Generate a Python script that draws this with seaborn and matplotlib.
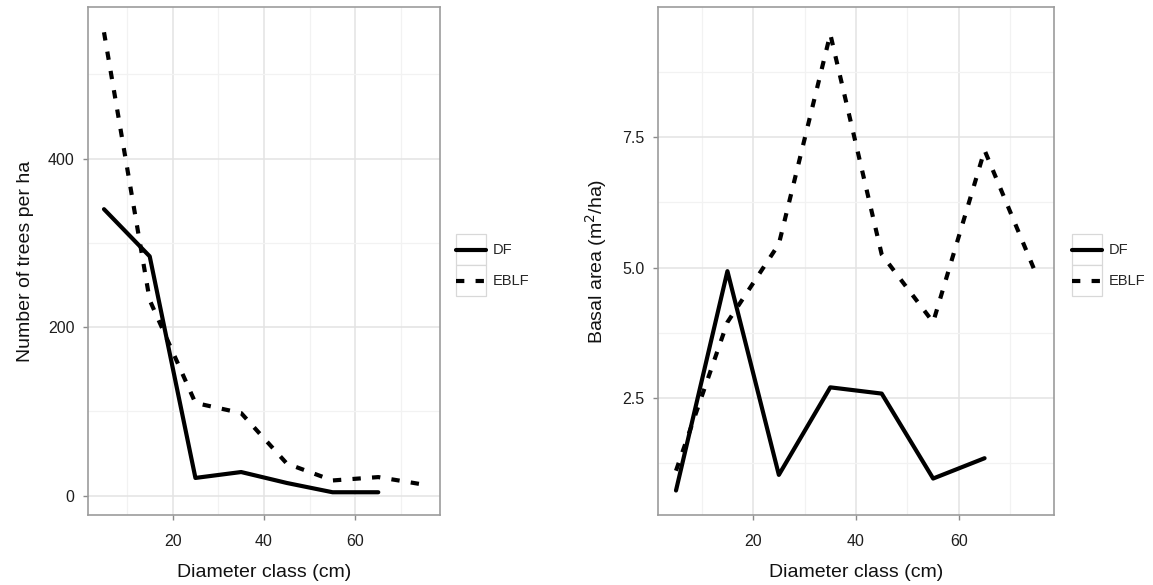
import numpy as np
import pandas as pd
import matplotlib
matplotlib.use("Agg")
import matplotlib.pyplot as plt
import seaborn as sns
from matplotlib.ticker import FixedLocator
from matplotlib.legend_handler import HandlerLine2D
from matplotlib.patches import Rectangle

# ---------------- data ----------------
diameter = [5, 15, 25, 35, 45, 55, 65, 75]
forests = ["DF", "EBLF"]

df_trees = [340, 284, 21, 28, 15, 4, 4]            # DF ends at 65 cm
eblf_trees = [550, 232, 110, 98, 38, 18, 22, 13]

df_basal = [0.72, 4.93, 1.02, 2.70, 2.58, 0.95, 1.34]
eblf_basal = [1.10, 3.95, 5.45, 9.48, 5.25, 3.95, 7.25, 4.88]

x_label = "Diameter class (cm)"
y_label_left = "Number of trees per ha"
y_label_right = "Basal area (m$^2$/ha)"

left_yticks = [0, 200, 400]
right_yticks = [2.5, 5.0, 7.5]
right_yticklabels = ["2.5", "5.0", "7.5"]
xticks = [20, 40, 60]


def long_frame(df_vals, eblf_vals):
    rows = []
    for d, v in zip(diameter, df_vals):
        rows.append({"diameter": d, "value": v, "forest": "DF"})
    for d, v in zip(diameter, eblf_vals):
        rows.append({"diameter": d, "value": v, "forest": "EBLF"})
    return pd.DataFrame(rows)


trees = long_frame(df_trees, eblf_trees)
basal = long_frame(df_basal, eblf_basal)

# ---------------- style ----------------
sns.set_theme(style="white")
plt.rcParams["font.family"] = ["Liberation Sans", "DejaVu Sans"]

W, H = 1153, 585
fig = plt.figure(figsize=(W / 100, H / 100), dpi=100)

ax1 = fig.add_axes([88 / W, (H - 515) / H, 352 / W, 508 / H])
ax2 = fig.add_axes([658 / W, (H - 515) / H, 396 / W, 508 / H])

LW = 3.0
dash_map = {"DF": "", "EBLF": (2.0, 2.7)}


class KeyBoxHandler(HandlerLine2D):
    def create_artists(self, legend, orig_handle, xdescent, ydescent,
                       width, height, fontsize, trans):
        arts = list(super().create_artists(legend, orig_handle, xdescent,
                                           ydescent, width, height, fontsize,
                                           trans))
        yc = height / 2.0 - ydescent
        for a in arts:
            if hasattr(a, "get_xdata"):
                a.set_ydata(np.full_like(np.asarray(a.get_xdata(), float), yc))
        rect = Rectangle((-xdescent, -ydescent), width, height,
                         facecolor="white", edgecolor="#d8d8d8", lw=0.9,
                         transform=trans)
        return [rect] + arts


def style_axes(ax, data, yticks, yticklabels, ylim, minor_y, ylabel):
    sns.lineplot(data=data, x="diameter", y="value", style="forest",
                 style_order=forests, dashes=dash_map, color="black",
                 linewidth=LW, legend=False, ax=ax, sort=True,
                 estimator=None)
    ax.set_xlim(1.5, 78.5)
    ax.set_ylim(*ylim)
    ax.xaxis.set_major_locator(FixedLocator(xticks))
    ax.xaxis.set_minor_locator(FixedLocator([10, 30, 50, 70]))
    ax.yaxis.set_major_locator(FixedLocator(yticks))
    ax.set_yticklabels(yticklabels)
    ax.yaxis.set_minor_locator(FixedLocator(minor_y))
    ax.grid(which="major", color="#e3e3e3", lw=1.1)
    ax.grid(which="minor", color="#f2f2f2", lw=0.9)
    ax.set_axisbelow(True)
    for s in ax.spines.values():
        s.set_color("#9c9c9c")
        s.set_linewidth(1.2)
    ax.tick_params(which="major", length=3.6, width=1.0, color="#8a8a8a",
                   labelsize=11.5, labelcolor="#1e1e1e", pad=6,
                   bottom=True, left=True)
    ax.tick_params(axis="x", which="major", pad=10)
    ax.tick_params(which="minor", length=0)
    ax.set_xlabel(x_label, fontsize=14, color="#111111", labelpad=11)
    ax.set_ylabel(ylabel, fontsize=14, color="#111111", labelpad=10)

    lines = ax.get_lines()[:2]
    leg = ax.legend(handles=lines, labels=forests, loc="center left",
                    bbox_to_anchor=(1.045, 0.492), frameon=False,
                    fontsize=10.5, handlelength=2.1, handleheight=2.9,
                    handletextpad=0.4, labelspacing=0.0, borderpad=0.0,
                    borderaxespad=0.0,
                    handler_map={type(lines[0]): KeyBoxHandler()})
    return leg


style_axes(ax1, trees, left_yticks, [str(t) for t in left_yticks],
           (-23, 580), [100, 300, 500], y_label_left)
style_axes(ax2, basal, right_yticks, right_yticklabels,
           (0.25, 10.0), [1.25, 3.75, 6.25, 8.75], y_label_right)

fig.savefig("out.png", dpi=100, facecolor="white")
